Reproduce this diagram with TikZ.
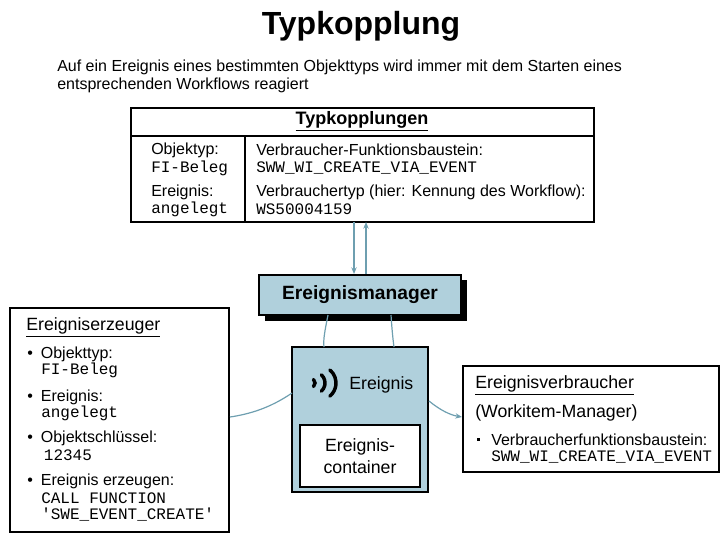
\documentclass[tikz,border=0pt]{standalone}
\usepackage{fontspec}
\setmainfont{Liberation Sans}
\setmonofont{Liberation Mono}
\usetikzlibrary{arrows.meta}
\definecolor{lb}{HTML}{B0D0DC}
\definecolor{ar}{HTML}{6E9FB0}
\tikzset{
 box/.style={draw=black,line width=1.2pt},
 txt/.style={anchor=west,inner sep=0pt,font=\fontsize{12}{14}\selectfont},
 hd/.style={anchor=west,inner sep=0pt,font=\fontsize{13.3}{15}\selectfont},
 mono/.style={anchor=west,inner sep=0pt,font=\ttfamily\fontsize{12}{13}\selectfont},
 con/.style={draw=ar,line width=0.9pt},
 tip/.style={-{Stealth[length=5pt,width=4pt]}}
}
\begin{document}
\begin{tikzpicture}[x=0.75pt,y=-0.75pt]
\useasboundingbox (0,0) rectangle (720,540);
\node[font=\bfseries\fontsize{24}{28}\selectfont] (title) at (361,26) {Typkopplung};
\node[txt] (d1) at (57,67) {Auf ein Ereignis eines bestimmten Objekttyps wird immer mit dem Starten eines};
\node[txt] (d2) at (57,85) {entsprechenden Workflows reagiert};
% table
\draw[box] (131,108) rectangle (594,222);
\draw[box] (131,136) -- (594,136);
\draw[box] (245,136) -- (245,222);
\node[font=\bfseries\fontsize{13.5}{15}\selectfont] (th) at (362,121) {\underline{Typkopplungen}};
\node[txt] (t1) at (151,150) {Objektyp:};
\node[mono] (t2) at (151,168) {FI-Beleg};
\node[txt] (t3) at (151,192) {Ereignis:};
\node[mono] (t4) at (151,209) {angelegt};
\node[txt] (t5) at (256,150) {Verbraucher-Funktionsbaustein:};
\node[mono] (t6) at (256,168) {SWW\_WI\_CREATE\_VIA\_EVENT};
\node[txt] (t7) at (256,192) {Verbrauchertyp (hier: Kennung des Workflow):};
\node[mono] (t8) at (256,209) {WS50004159};
\coordinate (tb1) at (354,222); \coordinate (tb2) at (366,222);
% manager
\fill (265,280) rectangle (467,321);
\draw[box,fill=lb] (259,275) rectangle (461,315);
\node[font=\bfseries\fontsize{14.4}{16}\selectfont] (em) at (360,295) {Ereignismanager};
\coordinate (m1) at (354,274); \coordinate (m2) at (366,274);
\draw[con,tip] (tb1) -- (m1);
\draw[con,tip] (m2) -- (tb2);
% central
\draw[box,fill=lb] (292,347) rectangle (428,492);
\draw[box,fill=white] (300,425) rectangle (420,487);
\node[align=center,font=\fontsize{13.3}{16}\selectfont] (ec) at (360,456) {Ereignis-\\container};
\node[hd] (ev) at (349,385) {Ereignis};
\begin{scope}[line width=2.6pt,line cap=round]
\draw (310,383) ++(-45:5) arc (-45:45:5);
\draw (314,383) ++(-48:11) arc (-48:48:11);
\draw (319,383) ++(-50:17) arc (-50:50:17);
\end{scope}
\draw[con] (328,315) .. controls (325,330) and (323,340) .. (324,347);
\draw[con] (391,315) .. controls (392,330) and (393,340) .. (394,347);
% erzeuger
\draw[box,fill=white] (10,308) rectangle (229,532);
\node[hd] (ez) at (26,327) {\underline{Ereigniserzeuger}};
\node[txt] (e1) at (27,354) {•\hspace{6pt}Objekttyp:};
\node[mono] (e2) at (41,370) {FI-Beleg};
\node[txt] (e3) at (27,397) {•\hspace{6pt}Ereignis:};
\node[mono] (e4) at (41,413) {angelegt};
\node[txt] (e5) at (27,438) {•\hspace{6pt}Objektschlüssel:};
\node[mono] (e6) at (41,455) {\,12345};
\node[txt] (e7) at (27,481) {•\hspace{6pt}Ereignis erzeugen:};
\node[mono] (e8) at (41,498) {CALL FUNCTION};
\node[mono] (e9) at (41,515) {'SWE\_EVENT\_CREATE'};
\draw[con] (292,393) .. controls (270,408) and (250,414) .. (230,417);
% verbraucher
\draw[box,fill=white] (463,366) rectangle (719,472);
\node[hd] (vz) at (475,385) {\underline{Ereignisverbraucher}};
\node[hd] (vw) at (475,413) {(Workitem-Manager)};
\fill (477,438) rectangle (480,441);
\node[txt] (v1) at (491,440) {Verbraucherfunktionsbaustein:};
\node[mono] (v2) at (491,457) {SWW\_WI\_CREATE\_VIA\_EVENT};
\draw[con,tip] (429,401) .. controls (440,410) and (450,415) .. (462,417);
\end{tikzpicture}
\end{document}
